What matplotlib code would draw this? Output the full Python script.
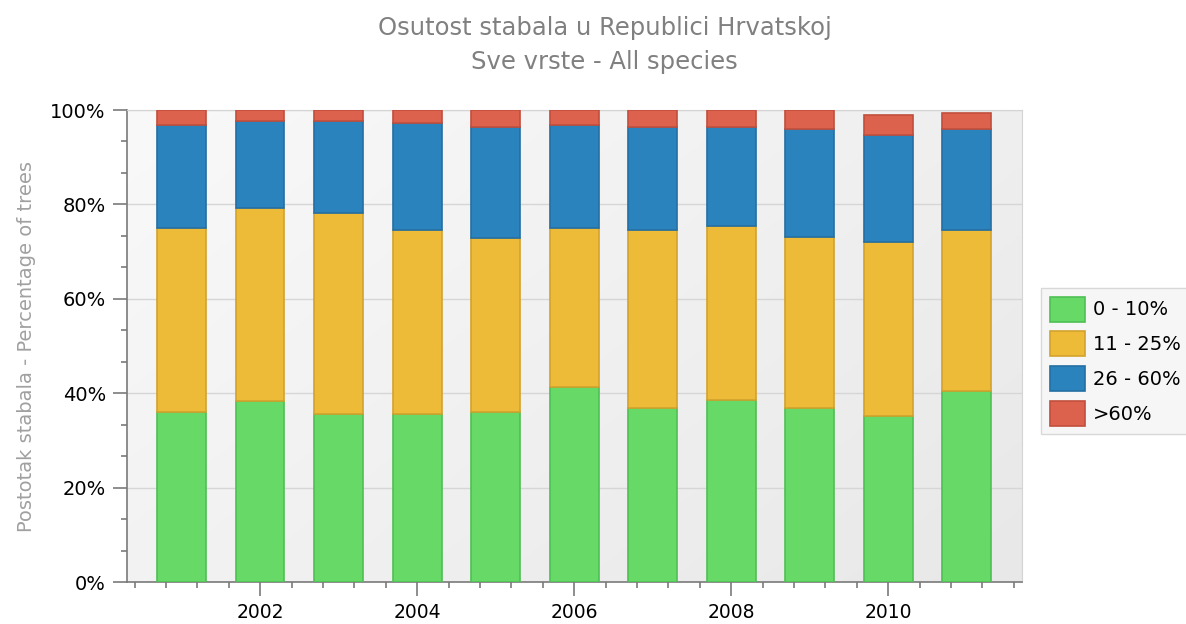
import numpy as np
import matplotlib
matplotlib.use("Agg")
import matplotlib.pyplot as plt
from matplotlib.ticker import MultipleLocator, FuncFormatter

# godine i udjeli po razredima osutosti (%)
years = [2001, 2002, 2003, 2004, 2005, 2006, 2007, 2008, 2009, 2010, 2011]
labels = ["0 - 10%", "11 - 25%", "26 - 60%", ">60%"]
g0_10 = [36.1, 38.3, 35.7, 35.7, 36.1, 41.3, 36.9, 38.6, 36.9, 35.2, 40.4]
g11_25 = [38.9, 41.0, 42.4, 38.8, 36.7, 33.7, 37.6, 36.8, 36.3, 36.8, 34.1]
g26_60 = [21.8, 18.4, 19.6, 22.8, 23.7, 21.8, 22.0, 21.1, 22.8, 22.8, 21.5]
g60 = [3.2, 2.3, 2.3, 2.7, 3.5, 3.2, 3.5, 3.5, 4.0, 4.1, 3.4]

colors = ["#66d966", "#edbb38", "#2b83be", "#dd624d"]
edges = ["#4fbf55", "#d3a22c", "#236fa3", "#c24e3c"]

fig = plt.figure(figsize=(11.86, 6.24), dpi=100)
ax = fig.add_axes([0.1068, 0.0673, 0.8615 - 0.1068, 0.8237 - 0.0673])

# gradient pozadina
gx, gy = np.meshgrid(np.linspace(0, 1, 200), np.linspace(0, 1, 200))
grad = 0.6 * gx + 0.4 * gy
ax.imshow(grad, extent=[0, 1, 0, 1], transform=ax.transAxes, aspect="auto",
          cmap=matplotlib.colors.LinearSegmentedColormap.from_list("bg", ["#f9f9f9", "#e8e8e8"]),
          zorder=0, origin="upper")

bottom = np.zeros(len(years))
for vals, c, e, lab in zip([g0_10, g11_25, g26_60, g60], colors, edges, labels):
    ax.bar(years, vals, width=0.62, bottom=bottom, color=c, edgecolor=e,
           linewidth=1.2, label=lab, zorder=3)
    bottom += np.array(vals)

ax.set_xlim(2000.3, 2011.7)
ax.set_ylim(0, 100)
ax.xaxis.set_major_locator(MultipleLocator(2))
ax.xaxis.set_minor_locator(MultipleLocator(0.4))
ax.yaxis.set_major_locator(MultipleLocator(20))
ax.yaxis.set_minor_locator(MultipleLocator(20 / 3))
ax.yaxis.set_major_formatter(FuncFormatter(lambda v, p: "%d%%" % v))
ax.grid(axis="y", which="major", color="#d6d6d6", linewidth=1, zorder=1)
ax.set_axisbelow(True)

for s in ["left", "bottom"]:
    ax.spines[s].set_color("#7a7a7a")
    ax.spines[s].set_linewidth(1.2)
for s in ["top", "right"]:
    ax.spines[s].set_color("#d4d4d4")
ax.tick_params(which="major", length=10, width=1.2, color="#7a7a7a", labelsize=13.5)
ax.tick_params(which="minor", length=4, width=1.2, color="#7a7a7a")
ax.tick_params(axis="y", pad=5, labelsize=14)
ax.tick_params(axis="x", pad=5)

fig.text(0.51, 0.955, "Osutost stabala u Republici Hrvatskoj", ha="center", va="center",
         fontsize=17.5, color="#808080")
fig.text(0.51, 0.90, "Sve vrste - All species", ha="center", va="center",
         fontsize=17.5, color="#808080")
ax.set_ylabel("Postotak stabala - Percentage of trees", fontsize=14, color="#a0a0a0", labelpad=10)

leg = ax.legend(loc="center left", bbox_to_anchor=(1.022, 0.468), fontsize=14, frameon=True,
                fancybox=False, edgecolor="#d0d0d0", facecolor="#f4f4f4",
                handlelength=1.8, handleheight=1.6, labelspacing=0.5, borderpad=0.45,
                handletextpad=0.4, borderaxespad=0)
leg.get_frame().set_linewidth(1.0)

fig.savefig("out.png", dpi=100)
